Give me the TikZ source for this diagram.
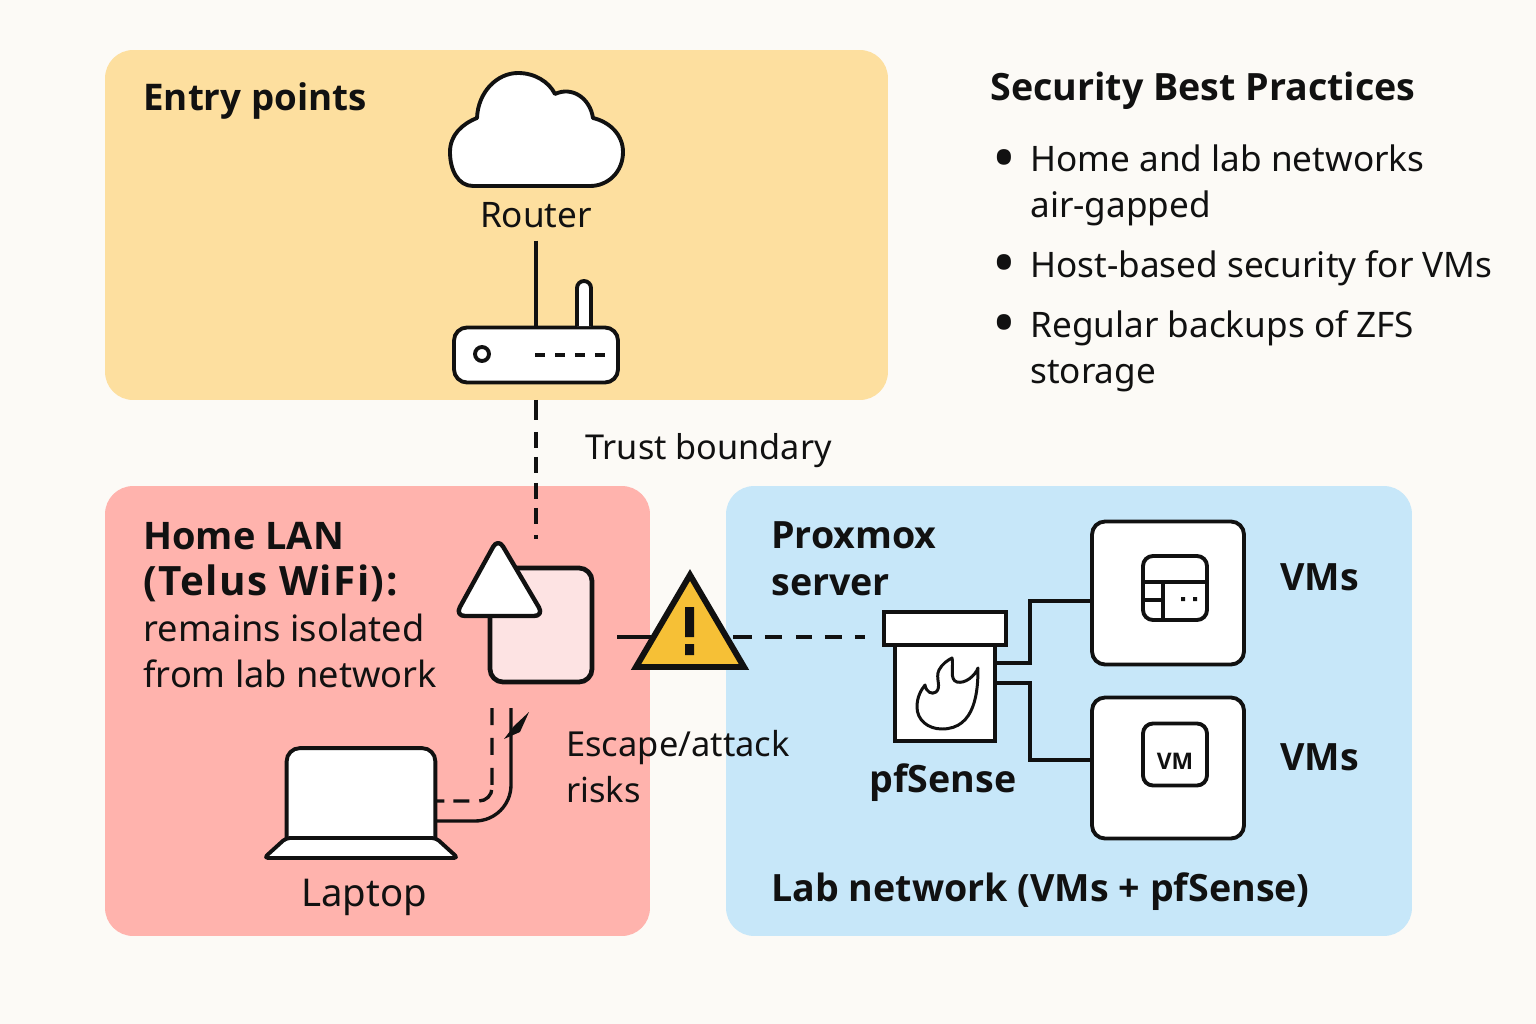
\documentclass[tikz,border=0pt]{standalone}
\usepackage{fontspec}
\setmainfont{Noto Sans}
\newfontfamily\headfont{Open Sans}
\usepackage{tikz}
\usetikzlibrary{arrows.meta,positioning,calc}
\definecolor{pagebg}{HTML}{FCFAF6}
\definecolor{entrycol}{HTML}{FDDF9F}
\definecolor{homecol}{HTML}{FFB3AD}
\definecolor{labcol}{HTML}{C7E7F9}
\definecolor{apcol}{HTML}{FDE3E3}
\definecolor{warncol}{HTML}{F6C036}
\definecolor{inkcol}{HTML}{111111}

\begin{document}
\begin{tikzpicture}[
    x=0.02cm, y=-0.02cm,
    panel/.style={rounded corners=0.56cm, inner sep=0pt, outer sep=0pt},
    device/.style={rounded corners=0.26cm, draw=inkcol, line width=2.2pt, fill=white, inner sep=0pt},
    plainbox/.style={draw=inkcol, line width=2.2pt, fill=white, inner sep=0pt, outer sep=0pt},
    icon/.style={draw=inkcol, line width=2.2pt, fill=white, line join=round},
    link/.style={draw=inkcol, line width=1.9pt},
    txt/.style={anchor=base west, inner sep=0pt, text=inkcol, align=left, font=\fontsize{20}{26}\selectfont},
    head/.style={txt, font=\fontsize{21.4}{26.5}\selectfont\headfont\bfseries},
    tag/.style={txt, anchor=base}
  ]
    \useasboundingbox[fill=pagebg] (0,0) rectangle (1536,1024);

    % background panels
    \node[panel, fill=entrycol, minimum width=15.66cm, minimum height=7cm] (entry) at (496.5,225) {};
    \node[panel, fill=homecol, minimum width=10.9cm, minimum height=9cm] (home) at (377.5,711) {};
    \node[panel, fill=labcol, minimum width=13.72cm, minimum height=9cm] (lab) at (1069,711) {};

    % router
    \node[tag] (routerlabel) at (536,228) {Router};
    \node[device, minimum width=3.28cm, minimum height=1.1cm] (router) at (536,355) {};
    \draw[link] (routerlabel.south) ++(0,12) coordinate (routertop) -- (routertop |- router.north);
    \draw[icon] (577,326) -- (577,288) arc[start angle=180, end angle=360, radius=7] -- (591,326);
    \draw[icon] (482,354) circle[radius=7];
    \draw[link, dash pattern=on 0.2cm off 0.2cm] (535,355) -- (605,355);
    \draw[icon] (473,186) .. controls (458,186) and (450,170) .. (450,152)
      .. controls (450,135) and (462,124) .. (477,118)
      .. controls (478,92) and (497,73) .. (518,73)
      .. controls (535,73) and (549,82) .. (555,94)
      .. controls (572,86) and (590,98) .. (593,118)
      .. controls (610,122) and (623,135) .. (623,152)
      .. controls (623,172) and (608,186) .. (590,186) -- cycle;

    % home side
    \node[device, line width=2.7pt, fill=apcol, minimum width=2.04cm, minimum height=2.28cm] (ap) at (541,625) {};
    \draw[icon, line width=2.5pt, rounded corners=0.2cm] (498,538) -- (544,616) -- (455,616) -- cycle;
    \node[minimum width=2.96cm, minimum height=1.78cm, inner sep=0pt] (screen) at (361,793) {};
    \draw[icon, rounded corners=0.26cm] (screen.south west) -- (screen.north west) -- (screen.north east) -- (screen.south east);
    \draw[icon, rounded corners=0.08cm] (286,838) -- (436,838) -- (458,858) -- (264,858) -- cycle;
    \coordinate (dashstart) at (492,708);
    \coordinate (cablestart) at (511,708);
    \draw[link, rounded corners=0.26cm, dash pattern=on 0.34cm off 0.26cm on 0.34cm off 0.26cm on 0.34cm off 0.1cm on 0.36cm off 0.2cm on 0.32cm off 0.18cm on 0.3cm off 1cm] (dashstart) -- (492,801) -- (screen.east |- 0,801);
    \draw[link, rounded corners=0.72cm] (cablestart) -- (511,821) -- (screen.east |- 0,821);
    \fill[inkcol] (529,712) -- (520,732) -- (504,739) -- (514,726) -- cycle;

    % lab side
    \node[plainbox, minimum width=2.44cm, minimum height=0.66cm] (fwcap) at (945,628.5) {};
    \node[plainbox, minimum width=2cm, minimum height=1.92cm, below=0pt of fwcap] (fwbody) {};
    \draw[icon, line width=1.7pt] (952,658) .. controls (954,665) and (949,680) .. (957,682)
      .. controls (965,684) and (975,676) .. (978,668)
      .. controls (978,690) and (976,729) .. (942,729)
      .. controls (928,729) and (917,720) .. (917,707)
      .. controls (917,697) and (921,690) .. (925,685)
      .. controls (926,692) and (932,695) .. (936,692)
      .. controls (942,687) and (935,678) .. (939,670)
      .. controls (942,664) and (948,660) .. (952,658) -- cycle;
    \node[device, minimum width=3.04cm, minimum height=2.86cm] (vmtop) at (1168,593) {};
    \node[device, minimum width=3.04cm, minimum height=2.82cm] (vmbot) at (1168,768) {};
    \node[device, rounded corners=0.2cm, minimum width=1.28cm, minimum height=1.28cm] (wintop) at (1175,588) {};
    \node[device, rounded corners=0.2cm, minimum width=1.28cm, minimum height=1.24cm] (winbot) at (1175,754.5) {};
    \node[inner sep=0pt, text=inkcol, font=\fontsize{13}{14}\selectfont\headfont\bfseries] (vmtext) at (1175,761) {VM};
    \draw[link] (wintop.west |- 0,582) -- (wintop.east |- 0,582);
    \draw[link] (1163,582) -- (1163 ,621);
    \draw[link] (wintop.west |- 0,600) -- (1163,600);
    \fill[inkcol] (1181,597) rectangle (1185,601) (1193,597) rectangle (1197,601);
    \draw[link] (fwbody.east |- 0,663) -- (1030,663) |- (vmtop.west |- 0,601);
    \draw[link] (fwbody.east |- 0,683) -- (1030,683) |- (vmbot.west |- 0,760);

    % trust boundary and warning
    \coordinate (warn) at (690,637);
    \coordinate (warnright) at (733,637);
    \coordinate (apport) at (617,637);
    \coordinate (apdrop) at (536,540);
    \draw[link, dash pattern=on 0.4cm off 0.24cm on 0.32cm off 0.18cm on 0.32cm off 0.2cm on 0.32cm off 0.18cm on 0.32cm off 0.22cm on 0.08cm off 1cm] (apdrop |- entry.south) -- (apdrop);
    \draw[link] (apport) -- (warn);
    \draw[link, dash pattern=on 0.38cm off 0.26cm on 0.34cm off 0.28cm on 0.32cm off 0.26cm on 0.34cm off 0.26cm on 0.2cm off 2cm] (warnright) -- (fwcap.west |- warn);
    \draw[draw=inkcol, fill=warncol, line width=3.4pt, line join=miter] (690,575) -- (744,667) -- (636,667) -- cycle;
    \fill[inkcol] (685,607) rectangle (694,637) (685,644) rectangle (694,655);

    % labels
    \node[head, font=\fontsize{20.9}{26.5}\selectfont\headfont\bfseries] (entrytitle) at (143,111) {Entry points};
    \node[txt, font=\fontsize{19.5}{26}\selectfont] (trust) at (585,459) {Trust boundary};
    \node[txt, font=\fontsize{20.6}{26}\selectfont] (hometext) at (143,687) {{\headfont\bfseries\fontsize{21.6}{26}\selectfont Home LAN}\\{\headfont\bfseries\fontsize{23}{26}\selectfont\addfontfeature{LetterSpace=3.5}(Telus WiFi):}\\remains isolated\\from lab network};
    \node[txt, font=\fontsize{19.6}{26}\selectfont] (risks) at (566,802) {Escape/attack\\risks};
    \node[tag, font=\fontsize{21.8}{26}\selectfont] (laptoplabel) at (364,906) {Laptop};
    \node[head] (proxmox) at (771,595) {Proxmox\\server};
    \node[head, anchor=base] (fwlabel) at (943,792) {pfSense};
    \node[head] (labtitle) at (771,901) {Lab network (VMs + pfSense)};
    \node[head] (vmtoplabel) at (1280,590) {VMs};
    \node[head] (vmbotlabel) at (1280,770) {VMs};

    % practices list
    \node[head] (practices) at (990,101) {Security Best Practices};
    \foreach \name/\ytop/\ypos/\body in {one/172/217/{Home and lab networks\\air-gapped}, two/277/277/{Host-based security for VMs}, three/337/383/{Regular backups of ZFS\\storage}} {
      \node[txt, font=\fontsize{36}{36}\selectfont] (bullet\name) at (992,\ytop+8) {•};
      \node[txt] (item\name) at (1030,\ypos) {\body};
    }
\end{tikzpicture}
\end{document}
